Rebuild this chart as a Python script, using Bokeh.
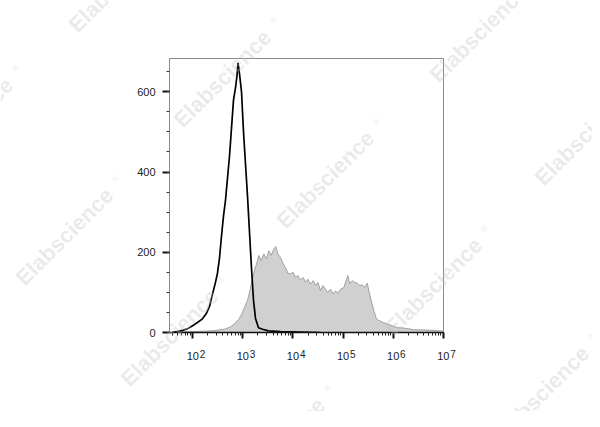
import math
from bokeh.plotting import figure
from bokeh.layouts import column
from bokeh.core.properties import value
from bokeh.models import Range1d, FixedTicker, SingleIntervalTicker, LogAxis
from bokeh.embed import file_html
from bokeh.resources import INLINE

# ---- data ----
# control (black outline histogram): fluorescence intensity, counts
ctrl_x = [39, 52, 65, 78, 99, 124, 156, 188, 216, 247, 284, 311, 341, 374, 410,
          450, 493, 541, 593, 650, 712, 763, 799, 856, 939, 1029, 1128, 1237,
          1356, 1486, 1630, 1786, 2051, 2465, 3249, 5640, 14150, 35480]
ctrl_y = [0, 3, 6, 9, 17, 25, 34, 48, 65, 95, 125, 148, 185, 240, 290,
          330, 385, 440, 510, 580, 610, 640, 672, 645, 600, 500, 420, 340,
          250, 160, 80, 35, 12, 8, 4, 2, 1, 0]

# stained sample (grey filled histogram)
stain_x = [39, 72, 143, 226, 326, 450, 566, 680, 818, 939, 1077, 1237, 1420,
           1556, 1706, 1871, 2079, 2322, 2617, 2963, 3294, 3678, 4143, 4543,
           4981, 5640, 6386, 7096, 7889, 8930, 10110, 11240, 12490, 14150,
           16010, 17800, 19790, 22400, 25360, 28190, 31330, 35480, 39430,
           44650, 49620, 56190, 63600, 70680, 78610, 88990, 103500, 117300,
           124500, 136500, 152400, 169400, 191800, 216100, 241300, 268300,
           303700, 326900, 365000, 411400, 465800, 542000, 633900, 761800,
           958700, 1206000, 1634000, 2588000, 4791000, 8834000, 10000000]
stain_y = [1, 2, 3, 4, 6, 9, 14, 22, 32, 45, 62, 80, 110,
           135, 155, 170, 192, 179, 196, 183, 204, 192, 208, 214,
           196, 187, 171, 162, 148, 146, 150, 137, 142, 131,
           137, 125, 133, 121, 129, 117, 125, 104, 117,
           108, 100, 108, 96, 104, 98, 108, 112, 133,
           142, 121, 129, 125, 123, 117, 119, 112,
           123, 104, 79, 54, 33, 29, 25, 21,
           17, 12, 11, 7, 6, 4, 3]

x_major = [100, 1000, 10000, 100000, 1000000, 10000000]
x_base = ["10", "10", "10", "10", "10", "10"]
x_exp = ["2", "3", "4", "5", "6", "7"]
X_START, X_END = 34.3, 1.01e7
Y_START, Y_END = 0, 683

W, H = 592, 411
FRAME_L, FRAME_T, FRAME_W, FRAME_H = 169, 58, 274, 274

p = figure(frame_width=FRAME_W, frame_height=FRAME_H,
           x_axis_type="log",
           x_range=Range1d(X_START, X_END), y_range=Range1d(Y_START, Y_END),
           output_backend="svg", toolbar_location=None,
           min_border_left=FRAME_L, min_border_top=FRAME_T,
           min_border_right=W - FRAME_L - FRAME_W,
           min_border_bottom=H - FRAME_T - FRAME_H,
           background_fill_color="white", border_fill_color="white")

p.xgrid.visible = False
p.ygrid.visible = False
p.outline_line_color = "#8a8a8a"
p.outline_line_width = 1

# grey filled histogram
p.varea(x=stain_x, y1=0, y2=stain_y, fill_color="#d0d0d0", fill_alpha=1.0)
p.line(stain_x, stain_y, line_color="#a0a0a0", line_width=1)
# black control histogram
p.line(ctrl_x, ctrl_y, line_color="black", line_width=1.7)

# ---- axes ----
minor = [m * 10 ** k for k in range(1, 7) for m in range(2, 10)]
p.xaxis.ticker = FixedTicker(ticks=x_major, minor_ticks=minor)
p.xaxis.major_label_overrides = dict(zip(x_major, x_base))
p.xaxis.axis_line_color = "#111111"
p.xaxis.axis_line_width = 1.5
p.xaxis.major_tick_line_color = "#111111"
p.xaxis.major_tick_line_width = 2
p.xaxis.major_tick_out = 6
p.xaxis.major_tick_in = 0
p.xaxis.minor_tick_line_color = "#222222"
p.xaxis.minor_tick_line_width = 1
p.xaxis.minor_tick_out = 3
p.xaxis.minor_tick_in = 0
p.xaxis.major_label_standoff = 13
p.xaxis.major_label_text_font = "Liberation Sans"
p.xaxis.major_label_text_font_size = "11px"
p.xaxis.major_label_text_color = "#222222"

# exponents: a second, label-only axis; non-breaking spaces push each
# exponent to the right of its "10", a negative standoff lifts it
pad = "\u00a0" * 7
exp_axis = LogAxis(ticker=FixedTicker(ticks=x_major, minor_ticks=[]),
                   major_label_overrides={v: pad + e for v, e in zip(x_major, x_exp)},
                   axis_line_color=None, major_tick_line_color=None,
                   minor_tick_line_color=None,
                   major_label_standoff=-20,
                   major_label_text_font="Liberation Sans",
                   major_label_text_font_size="10px",
                   major_label_text_color="#222222")
p.add_layout(exp_axis, "below")

p.yaxis.ticker = SingleIntervalTicker(interval=200, num_minor_ticks=4)
p.yaxis.axis_line_color = "#8a8a8a"
p.yaxis.major_tick_line_color = "#111111"
p.yaxis.major_tick_line_width = 2
p.yaxis.major_tick_out = 7
p.yaxis.major_tick_in = 0
p.yaxis.minor_tick_line_color = "#333333"
p.yaxis.minor_tick_line_width = 1
p.yaxis.minor_tick_out = 3
p.yaxis.minor_tick_in = 0
p.yaxis.major_label_standoff = 7
p.yaxis.major_label_text_font = "Liberation Sans"
p.yaxis.major_label_text_font_size = "11px"
p.yaxis.major_label_text_color = "#222222"

# ---- watermark: a transparent overlay figure whose frame is the whole canvas ----
wm_cx = [123, 228, 331, 439, 546, 484, 589, -30, 70, 175, 282]
wm_cy = [-23, 72, 173, 280, 388, 27, 130, 120, 230, 331, 440]
word_x = [c - 6 for c in wm_cx]
word_y = [c + 6 for c in wm_cy]
reg_x = [c + 45 for c in wm_cx]
reg_y = [c - 52 for c in wm_cy]

wm = figure(width=W, height=H, x_range=Range1d(0, W), y_range=Range1d(H, 0),
            min_border=0, toolbar_location=None, output_backend="svg",
            x_axis_location=None, y_axis_location=None,
            background_fill_alpha=0, border_fill_alpha=0, outline_line_color=None,
            styles={"position": "absolute", "top": "0px", "left": "0px",
                    "pointer-events": "none", "z-index": "5"})
wm.grid.visible = False
wm.text(x=word_x, y=word_y, text=["Elabscience"] * len(wm_cx), angle=math.pi / 4,
        text_align="center", text_baseline="middle",
        text_font=value("Liberation Sans"), text_font_style="bold",
        text_font_size="22px", text_color="#c4c4c4", text_alpha=0.35)
wm.text(x=reg_x, y=reg_y, text=["\u00ae"] * len(wm_cx), angle=math.pi / 4,
        text_align="center", text_baseline="middle",
        text_font=value("Liberation Sans"),
        text_font_size="9px", text_color="#c4c4c4", text_alpha=0.35)

# do not let the column line up the two frames
for fig in (p, wm):
    try:
        fig.frame_align = False
    except Exception:
        pass

layout = column(p, wm, styles={"position": "relative"})
open("out.html", "w").write(file_html(layout, INLINE))
